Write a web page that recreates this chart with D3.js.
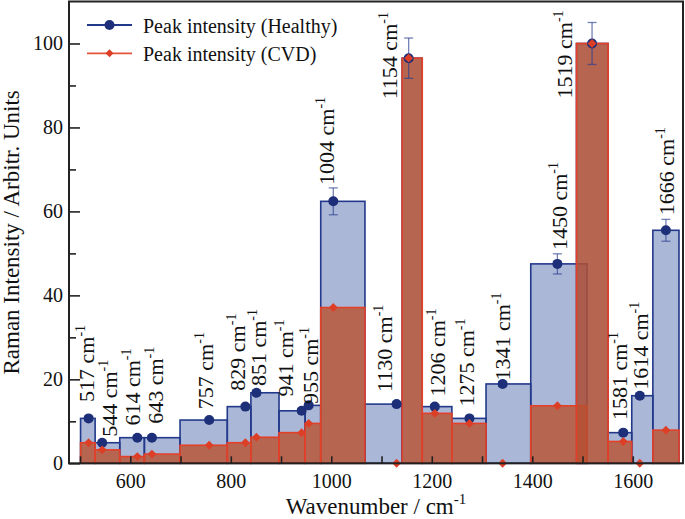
<!DOCTYPE html>
<html>
<head>
<meta charset="utf-8">
<script src="https://cdn.jsdelivr.net/npm/d3@7"></script>
<style>
  html, body { margin: 0; padding: 0; background: #fff; }
  svg { display: block; font-family: "Liberation Serif", "Times New Roman", serif; }
</style>
</head>
<body>
<svg id="chart" width="685" height="519" font-family="Liberation Serif, serif"></svg>
<script>
// ---------- data ----------
const peaks = [517, 544, 614, 643, 757, 829, 851, 941, 955, 1004, 1130, 1154, 1206, 1275, 1341, 1450, 1519, 1581, 1614, 1666];
const healthy = [10.7, 4.9, 6.1, 6.1, 10.3, 13.5, 16.8, 12.5, 13.8, 62.4, 14.1, 96.5, 13.5, 10.7, 18.9, 47.5, 100, 7.3, 16.1, 55.5];
const healthyErr = [0.5, 0.4, 0.4, 0.4, 0.5, 0.5, 0.6, 0.5, 0.5, 3.2, 0.5, 4.8, 0.5, 0.5, 0.6, 2.4, 5.0, 0.5, 0.6, 2.6];
const cvd = [4.9, 3.2, 1.6, 2.2, 4.3, 4.9, 6.2, 7.3, 9.5, 37.1, 0, 96.5, 11.9, 9.5, 0, 13.7, 100, 5.2, 0, 7.9];
const binStart = [501, 530, 579, 628, 699, 793, 840, 896, 948, 979, 1067, 1141, 1181, 1240, 1308, 1397, 1488, 1551, 1598, 1640];
const binEnd   = [530, 579, 628, 699, 793, 840, 896, 948, 979, 1067, 1141, 1181, 1240, 1308, 1397, 1509, 1551, 1598, 1640, 1692];
// label anchors (wavenumber of text baseline, intensity where text starts)
const labelAtX = [527.5, 573, 619.5, 666, 765.5, 828.6, 870, 924.7, 974, 1004.6, 1120.3, 1131, 1227, 1284.6, 1356.4, 1469, 1479, 1588, 1630.7, 1681.6];
const labelAtY = [14.6, 6.3, 9.0, 9.4, 12.9, 17.3, 18.4, 15.9, 14.1, 66.3, 17.0, 86.7, 15.9, 13.5, 19.7, 50.8, 86.9, 10.3, 17.5, 59.1];
const seriesNames = ["Peak intensity (Healthy)", "Peak intensity (CVD)"];
const xTicks = [500, 600, 700, 800, 900, 1000, 1100, 1200, 1300, 1400, 1500, 1600];
const xTickLabels = [600, 800, 1000, 1200, 1400, 1600];
const yMajor = [0, 20, 40, 60, 80, 100];
const yMinor = [10, 30, 50, 70, 90];

// ---------- setup ----------
const svg = d3.select("#chart");
const L = 69, R = 683, T = 1.5, B = 463.3;
const x = d3.scaleLinear().domain([478, 1700]).range([L, R]);
const y = d3.scaleLinear().domain([0, 110]).range([B, T]);

const blueStroke = "#22388a", blueFill = "#2c4a9a", blueMarker = "#1c2f78";
const redStroke = "#e3402a", redFill = "#b9502f", redMarker = "#dc3f26";

const rows = peaks.map((p, i) => ({p, h: healthy[i], he: healthyErr[i], c: cvd[i], s: binStart[i], e: binEnd[i], lx: labelAtX[i], ly: labelAtY[i]}));

// blue bars
svg.append("g").selectAll("rect").data(rows).join("rect")
  .attr("x", d => x(d.s)).attr("width", d => x(d.e) - x(d.s))
  .attr("y", d => y(d.h)).attr("height", d => y(0) - y(d.h))
  .attr("fill", blueFill).attr("fill-opacity", 0.4)
  .attr("stroke", blueStroke).attr("stroke-width", 1.6);

// red bars
svg.append("g").selectAll("rect").data(rows).join("rect")
  .attr("x", d => x(d.s)).attr("width", d => x(d.e) - x(d.s))
  .attr("y", d => y(d.c)).attr("height", d => y(0) - y(d.c))
  .attr("fill", redFill).attr("fill-opacity", 0.8)
  .attr("stroke", redStroke).attr("stroke-width", 1.6);

// error bars (healthy)
const eg = svg.append("g").attr("stroke", "#2a3f8f").attr("stroke-opacity", 0.65).attr("stroke-width", 1.3);
rows.forEach(d => {
  const cx = x(d.p);
  eg.append("line").attr("x1", cx).attr("x2", cx).attr("y1", y(d.h + d.he)).attr("y2", y(d.h - d.he));
  eg.append("line").attr("x1", cx - 4.5).attr("x2", cx + 4.5).attr("y1", y(d.h + d.he)).attr("y2", y(d.h + d.he));
  eg.append("line").attr("x1", cx - 4.5).attr("x2", cx + 4.5).attr("y1", y(d.h - d.he)).attr("y2", y(d.h - d.he));
});

// healthy markers
svg.append("g").selectAll("circle").data(rows).join("circle")
  .attr("cx", d => x(d.p)).attr("cy", d => y(d.h)).attr("r", 5)
  .attr("fill", blueMarker);

// cvd markers
const diamond = d3.symbol().type(d3.symbolDiamond2).size(50);
svg.append("g").selectAll("path").data(rows).join("path")
  .attr("transform", d => `translate(${x(d.p)},${y(d.c)})`)
  .attr("d", diamond).attr("fill", redMarker);

// peak labels
const lg = svg.append("g").attr("font-size", 22).attr("fill", "#111");
rows.forEach(d => {
  const t = lg.append("text")
    .attr("transform", `translate(${x(d.lx)},${y(d.ly)}) rotate(-90)`)
    .attr("text-anchor", "start");
  t.append("tspan").text(`${d.p} cm`);
  t.append("tspan").attr("font-size", 14).attr("dy", -9).text("-1");
});

// axes
const fmtX = v => xTickLabels.includes(v) ? String(v) : "";
const xAxis = svg.append("g").attr("transform", `translate(0,${B})`)
  .call(d3.axisBottom(x).tickValues(xTicks).tickFormat(fmtX).tickSizeInner(-7).tickSizeOuter(0).tickPadding(11));
const yAxis = svg.append("g").attr("transform", `translate(${L},0)`)
  .call(d3.axisLeft(y).tickValues(yMajor).tickFormat(d3.format("d")).tickSizeInner(-11).tickSizeOuter(0).tickPadding(6));
const yAxisMinor = svg.append("g").attr("transform", `translate(${L},0)`)
  .call(d3.axisLeft(y).tickValues(yMinor).tickFormat("").tickSizeInner(-7).tickSizeOuter(0));
[xAxis, yAxis, yAxisMinor].forEach(g => {
  g.attr("font-family", "Liberation Serif, serif");
  g.select(".domain").remove();
  g.selectAll("line").attr("stroke", "#222").attr("stroke-width", 1.6);
  g.selectAll("text").attr("font-size", 20).attr("fill", "#111");
});

// frame
svg.append("rect").attr("x", L).attr("y", T).attr("width", R - L).attr("height", B - T)
  .attr("fill", "none").attr("stroke", "#222").attr("stroke-width", 2);

// axis titles
const xt = svg.append("text").attr("x", (L + R) / 2).attr("y", 513.5).attr("text-anchor", "middle")
  .attr("font-size", 23).attr("fill", "#111");
xt.append("tspan").text("Wavenumber / cm");
xt.append("tspan").attr("font-size", 15).attr("dy", -10).text("-1");

svg.append("text").attr("transform", `translate(18.5,${(T + B) / 2}) rotate(-90)`)
  .attr("text-anchor", "middle").attr("font-size", 23).attr("fill", "#111")
  .text("Raman Intensity / Arbitr. Units");

// legend
const leg = svg.append("g");
const legY = [25, 53.3];
const legColors = [blueStroke, "#e2553a"];
seriesNames.forEach((name, i) => {
  leg.append("line").attr("x1", 87).attr("x2", 132).attr("y1", legY[i]).attr("y2", legY[i])
    .attr("stroke", legColors[i]).attr("stroke-width", 1.8);
  if (i === 0) {
    leg.append("circle").attr("cx", 109.5).attr("cy", legY[i]).attr("r", 5).attr("fill", blueMarker);
  } else {
    leg.append("path").attr("transform", `translate(109.5,${legY[i]})`).attr("d", d3.symbol().type(d3.symbolDiamond2).size(40)).attr("fill", redMarker);
  }
  leg.append("text").attr("x", 143).attr("y", legY[i] + 8).attr("font-size", 20).attr("fill", "#111").text(name);
});
</script>
</body>
</html>
